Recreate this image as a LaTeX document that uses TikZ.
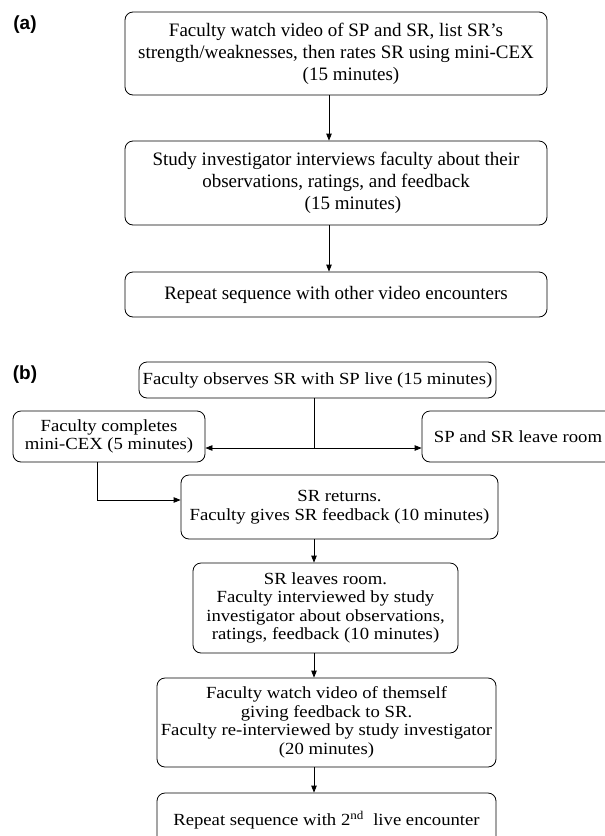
\documentclass[tikz,border=0pt]{standalone}
\usepackage{fontspec}
\setmainfont{Liberation Serif}
\setsansfont{Liberation Sans}
\newfontfamily\widefont[FakeStretch=1.1]{Liberation Serif}
\usetikzlibrary{%
  arrows.meta
}
\tikzset{
  stepbox/.style={draw,rounded corners=8pt,line width=0.8pt,align=center,
    inner sep=0pt,font=\widefont\fontsize{17}{18.5}\selectfont},
  bigbox/.style={stepbox,font=\rmfamily\fontsize{19}{22}\selectfont},
  arr/.style={line width=0.8pt,-{Triangle[length=7pt,width=5.5pt]}},
  ln/.style={line width=0.8pt},
  panel/.style={font=\sffamily\bfseries\fontsize{19}{20}\selectfont},
}

\begin{document}
\begin{tikzpicture}[x=1pt,y=-1pt]
\useasboundingbox (0,0) rectangle (605,836);
\def\aX{336}
\def\aW{422}
%%%panel a
\node[panel] (la) at (25,25) {(a)};
\node[bigbox,minimum width=\aW,minimum height=83] (a1) at (\aX,53.5)
  {Faculty watch video of SP and SR, list SR's\\
   strength/weaknesses, then rates SR using mini-CEX\\
   \hspace*{30pt}(15 minutes)};
\node[bigbox,minimum width=\aW,minimum height=84] (a2) at (\aX,183)
  {Study investigator interviews faculty about their\\
   observations, ratings, and feedback\\
   \hspace*{34pt}(15 minutes)};
\node[bigbox,minimum width=\aW,minimum height=45] (a3) at (\aX,294.5)
  {Repeat sequence with other video encounters};
\draw[arr] ([xshift=-7]a1.south) -- ([xshift=-7]a2.north);
\draw[arr] ([xshift=-7]a2.south) -- ([xshift=-7]a3.north);

%%%panel b
\node[panel] (lb) at (25,375) {(b)};
\node[stepbox,minimum width=357,minimum height=36] (b1) at (317.5,380)
  {Faculty observes SR with SP live (15 minutes)};
\node[stepbox,minimum width=192,minimum height=51] (bl) at (109,436.5)
  {Faculty completes\\ mini-CEX (5 minutes)};
\node[stepbox,minimum width=192,minimum height=51] (br) at (518,436.5)
  {SP and SR leave room};
\node[stepbox,minimum width=317,minimum height=64] (b2) at (339.5,507)
  {SR returns.\\ Faculty gives SR feedback (10 minutes)};
\node[stepbox,minimum width=265,minimum height=90] (b3) at (325.5,608)
  {SR leaves room.\\ Faculty interviewed by study\\
   investigator about observations,\\ ratings, feedback (10 minutes)};
\node[stepbox,minimum width=339,minimum height=89] (b4) at (326.5,722.5)
  {Faculty watch video of themself\\ giving feedback to SR.\\
   Faculty re-interviewed by study investigator\\ (20 minutes)};
\node[stepbox,minimum width=339,minimum height=55] (b5) at (326.5,820.5)
  {Repeat sequence with 2\textsuperscript{nd}\ \ live encounter};

%% split after live observation
\coordinate (split) at (314,448);
\draw[ln] (b1.south -| split) -- (split);
\draw[arr] (split) -- (split -| bl.east);
\draw[arr] (split) -- (split -| br.west);
\draw[arr] ([xshift=-12]bl.south) |- ([yshift=7]b2.west);

%% main sequence
\draw[arr] (b2.south -| split) -- (b3.north -| split);
\draw[arr] (b3.south -| split) -- (b4.north -| split);
\draw[arr] (b4.south -| split) -- (b5.north -| split);

\end{tikzpicture}
\end{document}
